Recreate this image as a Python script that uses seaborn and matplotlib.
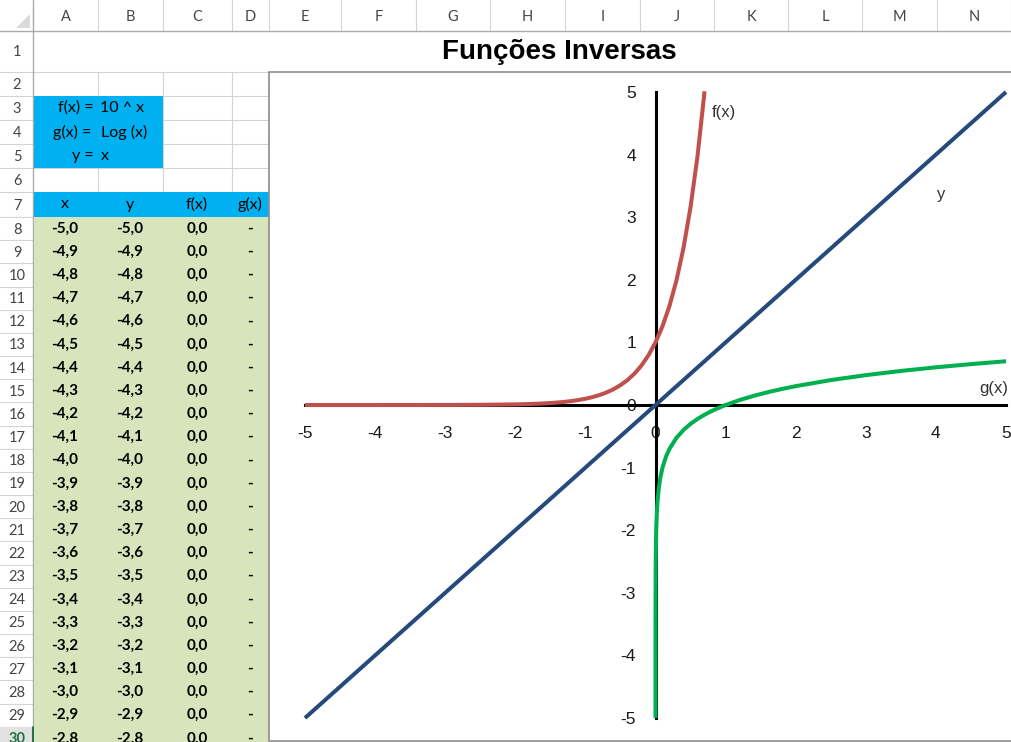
import matplotlib
matplotlib.use("Agg")
import matplotlib.pyplot as plt
from matplotlib.patches import Rectangle, Polygon
import pandas as pd
import seaborn as sns

# ---------------- data ----------------
# f(x) = 10 ^ x
fx_x = [-5.0, -4.0, -3.0, -2.5, -2.0, -1.9, -1.8, -1.7, -1.6, -1.5, -1.4, -1.3, -1.2,
        -1.1, -1.0, -0.9, -0.8, -0.7, -0.6, -0.5, -0.4, -0.3, -0.2, -0.1, 0.0,
        0.1, 0.2, 0.3, 0.4, 0.5, 0.6, 0.7]
fx_y = [0.00001, 0.0001, 0.001, 0.0032, 0.0100, 0.0126, 0.0158, 0.0200, 0.0251, 0.0316,
        0.0398, 0.0501, 0.0631, 0.0794, 0.1000, 0.1259, 0.1585, 0.1995, 0.2512, 0.3162,
        0.3981, 0.5012, 0.6310, 0.7943, 1.0000, 1.2589, 1.5849, 1.9953, 2.5119, 3.1623,
        3.9811, 5.0119]

# g(x) = Log (x)
gx_x = [0.00001, 0.0001, 0.001, 0.003, 0.01, 0.02, 0.03, 0.05, 0.07, 0.1, 0.15, 0.2,
        0.3, 0.4, 0.5, 0.6, 0.7, 0.8, 0.9, 1.0, 1.2, 1.4, 1.6, 1.8, 2.0, 2.5, 3.0,
        3.5, 4.0, 4.5, 5.0]
gx_y = [-5.0, -4.0, -3.0, -2.523, -2.0, -1.699, -1.523, -1.301, -1.155, -1.0, -0.824,
        -0.699, -0.523, -0.398, -0.301, -0.222, -0.155, -0.097, -0.046, 0.0, 0.079,
        0.146, 0.204, 0.255, 0.301, 0.398, 0.477, 0.544, 0.602, 0.653, 0.699]

# y = x
yx_x = [-5.0, 5.0]
yx_y = [-5.0, 5.0]

axis_ticks = [-5, -4, -3, -2, -1, 0, 1, 2, 3, 4, 5]

# spreadsheet table (rows 8..30)
table_x = [-5.0, -4.9, -4.8, -4.7, -4.6, -4.5, -4.4, -4.3, -4.2, -4.1, -4.0, -3.9,
           -3.8, -3.7, -3.6, -3.5, -3.4, -3.3, -3.2, -3.1, -3.0, -2.9, -2.8]
table_y = [-5.0, -4.9, -4.8, -4.7, -4.6, -4.5, -4.4, -4.3, -4.2, -4.1, -4.0, -3.9,
           -3.8, -3.7, -3.6, -3.5, -3.4, -3.3, -3.2, -3.1, -3.0, -2.9, -2.8]
table_f = [0.0] * 23
table_g = ["-"] * 23
table_headers = ["x", "y", "f(x)", "g(x)"]
column_letters = ["A", "B", "C", "D", "E", "F", "G", "H", "I", "J", "K", "L", "M", "N"]

# ---------------- layout (pixels) ----------------
W, H = 1011, 742
col_edges = [0, 33, 98, 163, 232, 269, 341, 416, 490, 565, 640, 714, 788, 862, 937, 1011]
row_tops = {1: 31, 2: 72, 3: 96, 4: 120, 5: 144, 6: 168, 7: 192}
for r in range(8, 32):
    row_tops[r] = 217 + (r - 8) * 23.17


def row_center(r):
    return (row_tops[r] + row_tops[r + 1]) / 2


sns.set_style("white")
plt.rcParams["axes.unicode_minus"] = False
plt.rcParams["font.family"] = ["Lato", "DejaVu Sans"]

fig = plt.figure(figsize=(W / 100, H / 100), dpi=100)
fig.patch.set_facecolor("white")

bg = fig.add_axes([0, 0, 1, 1])
bg.set_xlim(0, W)
bg.set_ylim(H, 0)
bg.axis("off")

grid_c = "#D4D4D4"
head_c = "#ABABAB"
txt_gray = "#444444"

# column header row
for x in col_edges[1:]:
    bg.plot([x, x], [0, 31], color=grid_c, lw=0.8, zorder=1)
bg.plot([0, W], [31, 31], color=head_c, lw=1.0, zorder=1)
bg.add_patch(Polygon([[16, 28], [30, 28], [30, 14]], closed=True, color="#DADADA", lw=0))
for i, letter in enumerate(column_letters):
    cx = (col_edges[i + 1] + col_edges[i + 2]) / 2
    bg.text(cx, 17, letter, ha="center", va="center", fontsize=10.5, color=txt_gray)

# row header column
for r in range(1, 31):
    bg.plot([0, 33], [row_tops[r + 1], row_tops[r + 1]], color=grid_c, lw=0.8, zorder=1)
bg.add_patch(Rectangle((0, row_tops[30]), 33, 30, color="#E1E1E1", lw=0, zorder=1.5))
bg.plot([33, 33], [0, H], color=head_c, lw=1.0, zorder=1.6)
bg.plot([33, 33], [row_tops[30], H], color="#217346", lw=2.2, zorder=1.7)
for r in range(1, 31):
    sel = r == 30
    bg.text(17, row_center(r) + 1, str(r), ha="center", va="center", fontsize=10.5,
            color="#217346" if sel else txt_gray, fontweight="bold" if sel else "normal")

# cell gridlines (white region)
bg.plot([33, W], [72, 72], color=grid_c, lw=0.8, zorder=1)
for r in range(3, 8):
    bg.plot([33, 269], [row_tops[r], row_tops[r]], color=grid_c, lw=0.8, zorder=1)
for x in [98, 163, 232, 269]:
    bg.plot([x, x], [72, 192], color=grid_c, lw=0.8, zorder=1)

# coloured blocks (drawn over the gridlines)
cyan = "#00B0F0"
olive = "#D8E4BC"
bg.add_patch(Rectangle((33.5, 96), 129.5, 72, color=cyan, lw=0, zorder=2))
bg.add_patch(Rectangle((33.5, 192), 235.5, 25, color=cyan, lw=0, zorder=2))
bg.add_patch(Rectangle((33.5, 217), 235.5, H - 217, color=olive, lw=0, zorder=2))

# formula block
fs = 11.5
bg.text(94, row_center(3), "f(x) =", ha="right", va="center", fontsize=fs, color="black", zorder=3)
bg.text(100, row_center(3), "10 ^ x", ha="left", va="center", fontsize=fs, color="black", zorder=3)
bg.text(91, row_center(4), "g(x) =", ha="right", va="center", fontsize=fs, color="black", zorder=3)
bg.text(101, row_center(4), "Log (x)", ha="left", va="center", fontsize=fs, color="black", zorder=3)
bg.text(94, row_center(5), "y =", ha="right", va="center", fontsize=fs, color="black", zorder=3)
bg.text(101, row_center(5), "x", ha="left", va="center", fontsize=fs, color="black", zorder=3)

# table header and values
col_cx = [65, 130, 197, 250]
for cx, h in zip(col_cx, table_headers):
    bg.text(cx, row_center(7), h, ha="center", va="center", fontsize=fs, color="black", zorder=3)


def fmt(v):
    return f"{v:.1f}".replace(".", ",")


for i in range(len(table_x)):
    r = 8 + i
    cy = row_center(r)
    vals = [fmt(table_x[i]), fmt(table_y[i]), fmt(table_f[i]), table_g[i]]
    for cx, v in zip(col_cx, vals):
        bg.text(cx, cy, v, ha="center", va="center", fontsize=11, color="black",
                fontweight="bold", zorder=3)

# title (merged row 1)
bg.text(559, 52, "Funções Inversas", ha="center", va="center", fontsize=20,
        fontweight="bold", family=["Liberation Sans", "DejaVu Sans"], color="black")

# chart frame
bg.add_patch(Rectangle((269, 72), W - 269 + 5, 741 - 72, facecolor="white",
                       edgecolor="#8C8C8C", lw=1.2, zorder=4))

# ---------------- chart ----------------
ax = fig.add_axes([305 / W, (H - 718) / H, 701 / W, 626 / H])
ax.patch.set_alpha(0)

df_f = pd.DataFrame({"x": fx_x, "y": fx_y})
df_g = pd.DataFrame({"x": gx_x, "y": gx_y})
df_i = pd.DataFrame({"x": yx_x, "y": yx_y})

line_kw = dict(sort=False, estimator=None, linewidth=2.9, clip_on=False, zorder=4,
               solid_capstyle="butt", ax=ax)
sns.lineplot(data=df_i, x="x", y="y", color="#264A7C", **line_kw)
sns.lineplot(data=df_f, x="x", y="y", color="#C0504D", **line_kw)
sns.lineplot(data=df_g, x="x", y="y", color="#00B050", **line_kw)

ax.set_xlim(-5, 5)
ax.set_ylim(-5, 5)
ax.set_xlabel("")
ax.set_ylabel("")
for s in ["top", "right"]:
    ax.spines[s].set_visible(False)
for s in ["left", "bottom"]:
    ax.spines[s].set_position(("data", 0))
    ax.spines[s].set_linewidth(2.2)
    ax.spines[s].set_color("black")
    ax.spines[s].set_zorder(3)

ax.set_xticks(axis_ticks)
ax.set_yticks(axis_ticks)
ax.set_xticklabels([str(t) for t in axis_ticks],
                   family=["Liberation Sans", "DejaVu Sans"])
ax.set_yticklabels([str(t) for t in axis_ticks],
                   family=["Liberation Sans", "DejaVu Sans"])
ax.tick_params(axis="both", direction="out", length=3, width=2.0, color="black",
               labelsize=12.5, labelcolor="#1A1A1A")
ax.tick_params(axis="x", pad=12)
ax.tick_params(axis="y", pad=11)

lab_kw = dict(fontsize=12, color="#333333", family=["Liberation Sans", "DejaVu Sans"])
ax.text(0.80, 4.68, "f(x)", ha="left", va="center", **lab_kw)
ax.text(4.07, 3.37, "y", ha="center", va="center", **lab_kw)
ax.text(4.82, 0.27, "g(x)", ha="center", va="center", **lab_kw)

fig.savefig("out.png", dpi=100, facecolor="white")
